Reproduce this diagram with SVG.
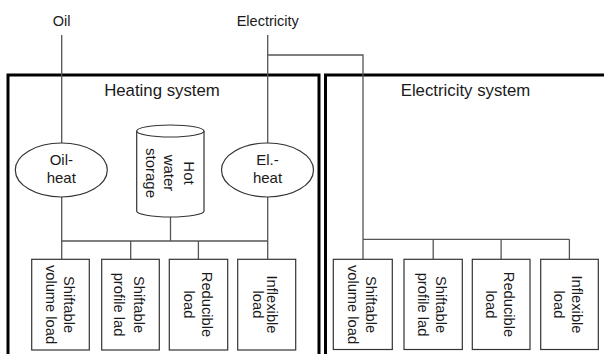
<svg xmlns="http://www.w3.org/2000/svg" width="604" height="354" viewBox="0 0 604 354">
<style>
text{font-family:"Liberation Sans",Arial,sans-serif;fill:#1a1a1a;}
.lbl{font-size:14.5px;text-anchor:middle;}
.ttl{font-size:16.8px;text-anchor:middle;}
.nd{font-size:15px;text-anchor:middle;}
.vt{font-size:14.7px;text-anchor:middle;}
.sys{fill:none;stroke:#000;stroke-width:3;}
.shape{fill:#fff;stroke:#333;stroke-width:1.2;}
.cn{fill:none;stroke:#555;stroke-width:1.3;}
</style>
<rect width="604" height="354" fill="#fff"/>
<g id="labels">
<text class="lbl" x="61.5" y="26">Oil</text>
<text class="lbl" x="267.7" y="26">Electricity</text>
</g>
<g id="heating-system">
<rect class="sys" x="8" y="75" width="311" height="300"/>
<text class="ttl" x="162" y="96">Heating system</text>
</g>
<g id="electricity-system">
<rect class="sys" x="325.5" y="75" width="300" height="300"/>
<text class="ttl" x="465.5" y="96">Electricity system</text>
</g>
<g id="connectors">
<path class="cn" d="M61.7,35V143M61.7,197V259"/>
<path class="cn" d="M267.7,35V143M267.7,197V259"/>
<path class="cn" d="M267.7,55H363V259"/>
<path class="cn" d="M170.5,217V241"/>
<path class="cn" d="M61.7,241H267.7M130.7,241V259M198.4,241V259"/>
<path class="cn" d="M363,239.3H569.4M433.2,239.3V259M501.1,239.3V259M569.4,239.3V259"/>
</g>
<g id="oil-heat">
<ellipse class="shape" cx="61.3" cy="170" rx="46" ry="27"/>
<text class="nd" x="61.3" y="165">Oil-</text>
<text class="nd" x="61.3" y="183">heat</text>
</g>
<g id="el-heat">
<ellipse class="shape" cx="267.5" cy="170" rx="46" ry="27"/>
<text class="nd" x="267.5" y="165">El.-</text>
<text class="nd" x="267.5" y="183">heat</text>
</g>
<g id="hot-water-storage">
<path class="shape" d="M136.7,131V211A33.65,6 0 0 0 204,211V131"/>
<ellipse class="shape" cx="170.35" cy="131" rx="33.65" ry="6"/>
<text class="nd" transform="translate(183.5,173) rotate(90)">Hot</text>
<text class="nd" transform="translate(164,173) rotate(90)">water</text>
<text class="nd" transform="translate(145.5,173) rotate(90)">storage</text>
</g>
<g id="h-shiftable-volume">
<rect class="shape" x="31.7" y="259.3" width="57.6" height="90.7"/>
<text class="vt" transform="translate(63.5,304.5) rotate(90)">Shiftable</text>
<text class="vt" transform="translate(45.5,304.5) rotate(90)">volume load</text>
</g>
<g id="h-shiftable-profile">
<rect class="shape" x="101.7" y="259.3" width="57.6" height="90.7"/>
<text class="vt" transform="translate(133.5,304.5) rotate(90)">Shiftable</text>
<text class="vt" transform="translate(114,304.5) rotate(90)">profile lad</text>
</g>
<g id="h-reducible">
<rect class="shape" x="169.3" y="259.3" width="58.4" height="90.7"/>
<text class="vt" transform="translate(202,304.5) rotate(90)">Reducible</text>
<text class="vt" transform="translate(184,304.5) rotate(90)">load</text>
</g>
<g id="h-inflexible">
<rect class="shape" x="237.7" y="259.3" width="58" height="90.7"/>
<text class="vt" transform="translate(267,304.5) rotate(90)">Inflexible</text>
<text class="vt" transform="translate(252.5,304.5) rotate(90)">load</text>
</g>
<g id="e-shiftable-volume">
<rect class="shape" x="333.3" y="259.3" width="59" height="90.2"/>
<text class="vt" transform="translate(365.5,304.5) rotate(90)">Shiftable</text>
<text class="vt" transform="translate(347.5,304.5) rotate(90)">volume load</text>
</g>
<g id="e-shiftable-profile">
<rect class="shape" x="404" y="259.3" width="58.3" height="90.2"/>
<text class="vt" transform="translate(436,304.5) rotate(90)">Shiftable</text>
<text class="vt" transform="translate(417.5,304.5) rotate(90)">profile lad</text>
</g>
<g id="e-reducible">
<rect class="shape" x="472.3" y="259.3" width="57.7" height="90.2"/>
<text class="vt" transform="translate(503.5,304.5) rotate(90)">Reducible</text>
<text class="vt" transform="translate(485.5,304.5) rotate(90)">load</text>
</g>
<g id="e-inflexible">
<rect class="shape" x="540.7" y="259.3" width="57.6" height="90.2"/>
<text class="vt" transform="translate(571.5,304.5) rotate(90)">Inflexible</text>
<text class="vt" transform="translate(554,304.5) rotate(90)">load</text>
</g>
</svg>
